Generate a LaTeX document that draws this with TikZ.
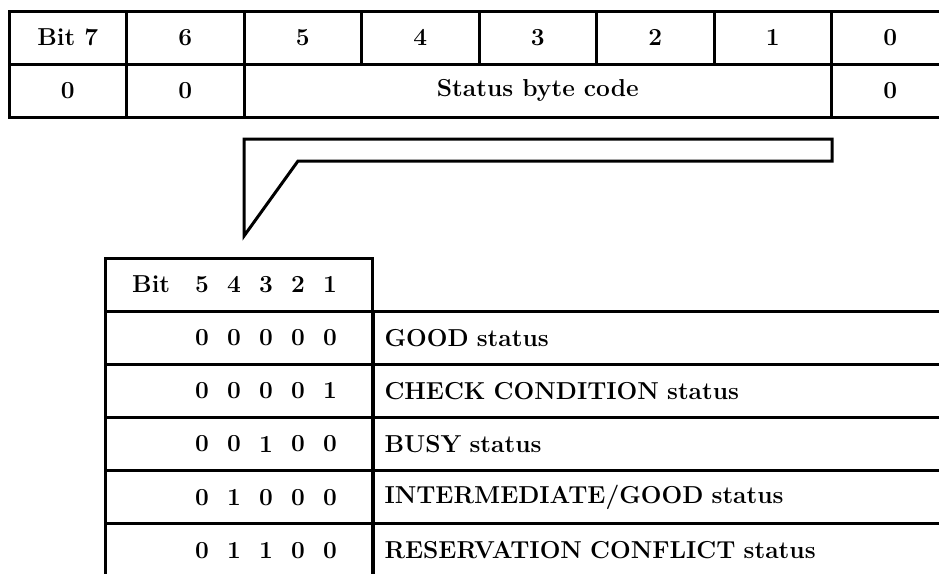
\documentclass[tikz,border=0pt]{standalone}
\usepackage{tikz}
\usetikzlibrary{positioning}

\begin{document}
\begin{tikzpicture}[x=1pt, y=-1pt]
        \tikzstyle{every node} = [font=\fontsize{24.5}{29}\selectfont\bfseries]
        \tikzstyle{cel}    = [draw, line width=3pt, inner sep=0pt, minimum height=53pt, minimum width=117.5pt]
        \tikzstyle{celcod} = [draw, line width=3pt, inner sep=0pt, minimum height=53.2pt, minimum width=267pt]
        \tikzstyle{celtxt} = [draw, line width=3pt, anchor=west, inner xsep=11pt, inner ysep=0pt,
                minimum height=53.2pt, text width=567pt, align=left]
        \tikzstyle{cifra}  = [inner sep=0pt]

        \useasboundingbox (0,0) rectangle (939,573);
        \clip (0,0) rectangle (939,573);

        \def\niva{37.5}
        \def\nivb{90.5}
        \def\nivc{284.5}
        \def\nivd{337.6}
        \def\nive{390.8}
        \def\nivf{444}
        \def\nivg{497.2}
        \def\nivh{550.4}
        \def\colst{238.5}
        \def\coldr{372}

        % octetul de stare
        \foreach[count=\c] \tip in {Bit 7,6,5,4,3,2,1,0}
            \node[cel] (bit\c) at ({9+117.5*(\c-0.5)},\niva) {\tip};

        \node[cel] (va) at (67.75,\nivb) {0};
        \node[cel] (vb) at (185.25,\nivb) {0};
        \node[cel, minimum width=587.5pt] (cod) at (537.75,\nivb) {Status byte code};
        \node[cel] (vc) at (890.25,\nivb) {0};

        \draw[line width=3pt] (244,139) -- (832,139) -- (832,161) -- (298,161) -- (244,236) -- cycle;

        % tabelul de coduri
        \node[celcod, minimum height=53pt] (antet) at (\colst,\nivc) {};
        \node[cifra, anchor=west] (bit) at (132,\nivc) {Bit};
        \foreach[count=\c] \b in {5,4,3,2,1}
            \node[cifra] (h\c) at ({170+32*\c},\nivc) {\b};

        \node[celcod] (ca) at (\colst,\nivd) {};
        \foreach[count=\c] \b in {0,0,0,0,0}
            \node[cifra] (a\c) at ({170+32*\c},\nivd) {\b};
        \node[celtxt] (ta) at (\coldr,\nivd) {GOOD status};

        \node[celcod] (cb) at (\colst,\nive) {};
        \foreach[count=\c] \b in {0,0,0,0,1}
            \node[cifra] (b\c) at ({170+32*\c},\nive) {\b};
        \node[celtxt] (tb) at (\coldr,\nive) {CHECK CONDITION status};

        \node[celcod] (cc) at (\colst,\nivf) {};
        \foreach[count=\c] \b in {0,0,1,0,0}
            \node[cifra] (c\c) at ({170+32*\c},\nivf) {\b};
        \node[celtxt] (tc) at (\coldr,\nivf) {BUSY status};

        \node[celcod] (cd) at (\colst,\nivg) {};
        \foreach[count=\c] \b in {0,1,0,0,0}
            \node[cifra] (d\c) at ({170+32*\c},\nivg) {\b};
        \node[celtxt] (td) at (\coldr,\nivg) {INTERMEDIATE/GOOD status};

        \node[celcod] (ce) at (\colst,\nivh) {};
        \foreach[count=\c] \b in {0,1,1,0,0}
            \node[cifra] (e\c) at ({170+32*\c},\nivh) {\b};
        \node[celtxt] (te) at (\coldr,\nivh) {RESERVATION CONFLICT status};
    \end{tikzpicture}
\end{document}
